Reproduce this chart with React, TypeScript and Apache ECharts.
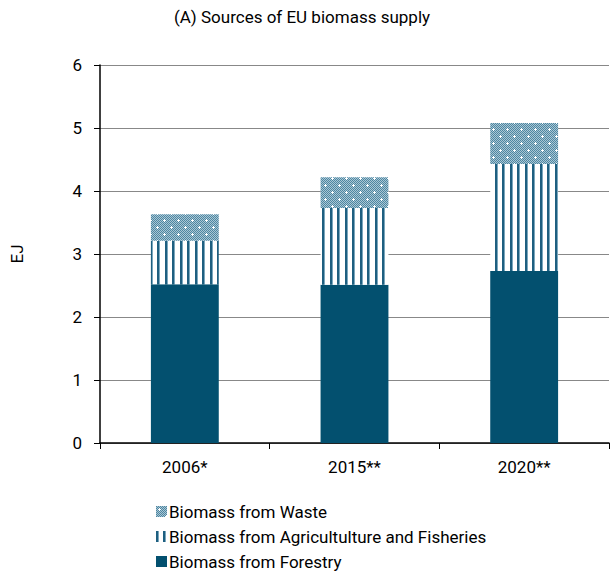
import React, { useEffect, useRef } from "react";
import * as echarts from "echarts";

const categories = ["2006*", "2015**", "2020**"];
const forestry = [2.52, 2.51, 2.73];
const agriculture = [0.69, 1.22, 1.7];
const waste = [0.42, 0.49, 0.65];
const yTicks = [0, 1, 2, 3, 4, 5, 6];
const legendOrder = ["Biomass from Waste", "Biomass from Agricultulture and Fisheries", "Biomass from Forestry"];

function stripeTile(): HTMLCanvasElement {
  const c = document.createElement("canvas");
  c.width = 15;
  c.height = 15;
  const ctx = c.getContext("2d")!;
  ctx.fillStyle = "#ffffff";
  ctx.fillRect(0, 0, 15, 15);
  ctx.fillStyle = "#1e5f80";
  ctx.fillRect(0, 0, 2, 15);
  ctx.fillRect(7, 0, 2, 15);
  ctx.fillStyle = "#7aa7bd";
  ctx.fillRect(2, 0, 1, 15);
  ctx.fillRect(9, 0, 1, 15);
  return c;
}

function checkTile(): HTMLCanvasElement {
  const c = document.createElement("canvas");
  c.width = 14;
  c.height = 14;
  const ctx = c.getContext("2d")!;
  for (let y = 0; y < 14; y++) {
    for (let x = 0; x < 14; x++) {
      ctx.fillStyle = (x + y) % 2 === 0 ? "#4e86a1" : "#a9c7d5";
      ctx.fillRect(x, y, 1, 1);
    }
  }
  ctx.fillStyle = "#ffffff";
  const dots = [
    [3, 3], [2, 3], [4, 3], [3, 2], [3, 4],
    [10, 10], [9, 10], [11, 10], [10, 9], [10, 11],
  ];
  dots.forEach(([x, y]) => ctx.fillRect(x, y, 1, 1));
  return c;
}

export default function App() {
  const ref = useRef<HTMLDivElement>(null);
  useEffect(() => {
    if (!ref.current) return;
    const chart = echarts.init(ref.current, undefined, { renderer: "svg" });
    const font = "Roboto";
    const wasteColor = { image: checkTile(), repeat: "repeat" } as any;
    const agriColor = { image: stripeTile(), repeat: "repeat" } as any;
    chart.setOption({
      animation: false,
      textStyle: { fontFamily: font },
      title: {
        text: "(A) Sources of EU biomass supply",
        left: 302,
        textAlign: "center",
        top: 8,
        padding: 0,
        textStyle: { fontFamily: font, fontSize: 17, fontWeight: "normal", color: "#000" },
      },
      grid: { left: 100, right: 4, top: 65, bottom: 134 },
      legend: {
        orient: "vertical",
        left: 156,
        top: 503,
        padding: 0,
        height: 80,
        icon: "rect",
        itemWidth: 11,
        itemHeight: 11,
        itemGap: 8,
        data: legendOrder,
        textStyle: { fontFamily: font, fontSize: 17, lineHeight: 17, color: "#000", padding: [0, 0, 0, -3] },
      },
      xAxis: {
        type: "category",
        data: categories,
        axisLine: { lineStyle: { color: "#000", width: 1.5 } },
        axisTick: { show: true, length: 6, lineStyle: { color: "#000" } },
        axisLabel: { color: "#000", fontSize: 17, margin: 15, fontFamily: font },
      },
      yAxis: {
        type: "value",
        min: 0,
        max: 6,
        interval: 1,
        name: "EJ",
        nameLocation: "middle",
        nameGap: 75,
        nameTextStyle: { color: "#000", fontSize: 17, fontFamily: font },
        axisLine: { show: true, lineStyle: { color: "#000", width: 1.5 } },
        axisTick: { show: true, length: 6, lineStyle: { color: "#000" } },
        axisLabel: {
          color: "#000",
          fontSize: 17,
          margin: 18,
          fontFamily: font,
          formatter: (v: number) => (yTicks.includes(v) ? String(v) : ""),
        },
        splitLine: { lineStyle: { color: "#888", width: 1 } },
      },
      series: [
        {
          name: "Biomass from Forestry",
          type: "bar",
          stack: "s",
          barWidth: "40%",
          data: forestry,
          itemStyle: { color: "#03506f" },
        },
        {
          name: "Biomass from Agricultulture and Fisheries",
          type: "bar",
          stack: "s",
          data: agriculture,
          itemStyle: { color: agriColor },
        },
        {
          name: "Biomass from Waste",
          type: "bar",
          stack: "s",
          data: waste,
          itemStyle: { color: wasteColor },
        },
      ],
    });
    return () => chart.dispose();
  }, []);
  return <div ref={ref} style={{ position: "absolute", left: 0, top: 0, width: 613, height: 577 }} />;
}
